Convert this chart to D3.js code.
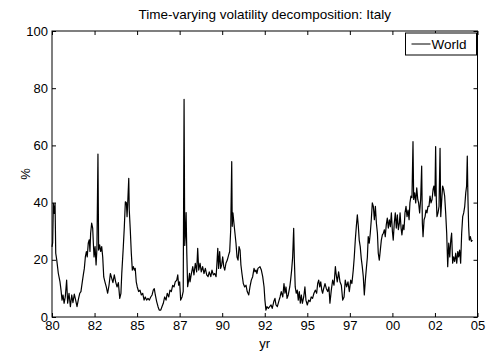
<!DOCTYPE html>
<html>
<head>
<meta charset="utf-8">
<script src="https://d3js.org/d3.v7.min.js"></script>
<style>
  body { margin: 0; background: #fff; }
  svg { font-family: "Liberation Sans", Arial, Helvetica, sans-serif; }
</style>
</head>
<body>
<svg width="487" height="353"></svg>
<script>
// decimal years of each observation
var dates = [
  1980.00, 1980.04, 1980.08, 1980.14, 1980.18, 1980.22, 1980.28, 1980.37, 1980.47, 1980.53, 1980.59, 1980.65, 1980.71, 1980.78, 1980.86, 1980.92,
  1981.00, 1981.08, 1981.16, 1981.23, 1981.31, 1981.39, 1981.47, 1981.55, 1981.63, 1981.70, 1981.78, 1981.84, 1981.90, 1981.96,
  1982.02, 1982.07, 1982.13, 1982.19, 1982.23, 1982.27, 1982.33, 1982.39, 1982.43, 1982.47, 1982.53, 1982.59, 1982.64, 1982.70, 1982.74, 1982.80, 1982.86, 1982.92, 1982.98,
  1983.04, 1983.11, 1983.19, 1983.27, 1983.35, 1983.43, 1983.51, 1983.58, 1983.66, 1983.74, 1983.82, 1983.90, 1983.98,
  1984.05, 1984.10, 1984.19, 1984.25, 1984.31, 1984.37, 1984.41, 1984.45, 1984.51, 1984.54, 1984.60, 1984.66, 1984.72, 1984.78, 1984.84, 1984.89, 1984.95,
  1985.01, 1985.09, 1985.17, 1985.25, 1985.33, 1985.41, 1985.48, 1985.56, 1985.64, 1985.72, 1985.80, 1985.88, 1985.95,
  1986.01, 1986.07, 1986.15, 1986.23, 1986.30, 1986.39, 1986.46, 1986.54, 1986.62, 1986.70, 1986.77, 1986.86, 1986.93,
  1987.01, 1987.09, 1987.17, 1987.24, 1987.33, 1987.39, 1987.44, 1987.50, 1987.56, 1987.64, 1987.71, 1987.76, 1987.80, 1987.85, 1987.88, 1987.92, 1987.97,
  1988.03, 1988.08, 1988.11, 1988.19, 1988.27, 1988.34, 1988.42, 1988.50, 1988.56, 1988.62, 1988.70, 1988.77, 1988.85, 1988.93,
  1989.01, 1989.09, 1989.17, 1989.24, 1989.33, 1989.40, 1989.48, 1989.56, 1989.64, 1989.68, 1989.74, 1989.79, 1989.85, 1989.91, 1989.97,
  1990.03, 1990.09, 1990.15, 1990.22, 1990.30, 1990.38, 1990.44, 1990.50, 1990.56, 1990.59, 1990.63, 1990.69, 1990.75, 1990.81, 1990.87, 1990.93, 1990.99,
  1991.05, 1991.10, 1991.16, 1991.24, 1991.32, 1991.40, 1991.47, 1991.56, 1991.63, 1991.71, 1991.79, 1991.87, 1991.93, 1991.99,
  1992.04, 1992.10, 1992.22, 1992.30, 1992.38, 1992.46, 1992.51, 1992.57, 1992.63, 1992.71, 1992.79, 1992.87, 1992.94,
  1993.03, 1993.10, 1993.16, 1993.24, 1993.32, 1993.40, 1993.47, 1993.56, 1993.63, 1993.69, 1993.75, 1993.81, 1993.88, 1993.97,
  1994.02, 1994.08, 1994.14, 1994.20, 1994.24, 1994.29, 1994.35, 1994.41, 1994.47, 1994.53, 1994.59, 1994.65, 1994.71, 1994.79, 1994.86, 1994.92,
  1995.00, 1995.08, 1995.16, 1995.23, 1995.31, 1995.39, 1995.47, 1995.55, 1995.61, 1995.67, 1995.73, 1995.79, 1995.85, 1995.90, 1995.96,
  1996.04, 1996.12, 1996.20, 1996.27, 1996.33, 1996.41, 1996.49, 1996.57, 1996.65, 1996.70, 1996.76, 1996.84, 1996.92,
  1997.00, 1997.08, 1997.16, 1997.23, 1997.31, 1997.39, 1997.47, 1997.55, 1997.62, 1997.70, 1997.76, 1997.82, 1997.88, 1997.94,
  1998.00, 1998.05, 1998.11, 1998.17, 1998.23, 1998.29, 1998.35, 1998.41, 1998.47, 1998.53, 1998.58, 1998.64, 1998.70, 1998.76, 1998.82, 1998.88, 1998.94,
  1999.00, 1999.06, 1999.12, 1999.17, 1999.23, 1999.29, 1999.35, 1999.41, 1999.47, 1999.53, 1999.58, 1999.64, 1999.70, 1999.76, 1999.82, 1999.88, 1999.94,
  2000.00, 2000.05, 2000.11, 2000.17, 2000.23, 2000.29, 2000.35, 2000.41, 2000.45, 2000.51, 2000.56, 2000.62, 2000.68, 2000.74, 2000.80, 2000.86, 2000.92, 2000.98,
  2001.03, 2001.09, 2001.15, 2001.21, 2001.25, 2001.31, 2001.37, 2001.43, 2001.49, 2001.54, 2001.60, 2001.66, 2001.72, 2001.76, 2001.80, 2001.86, 2001.92, 2001.97,
  2002.03, 2002.09, 2002.15, 2002.21, 2002.27, 2002.33, 2002.39, 2002.44, 2002.50, 2002.54, 2002.58, 2002.62, 2002.68, 2002.74, 2002.80, 2002.84, 2002.90, 2002.95,
  2003.01, 2003.07, 2003.13, 2003.19, 2003.25, 2003.31, 2003.37, 2003.43, 2003.48, 2003.54, 2003.60, 2003.66, 2003.72, 2003.78, 2003.84, 2003.89, 2003.95,
  2004.01, 2004.07, 2004.13, 2004.19, 2004.25, 2004.31, 2004.36, 2004.40, 2004.44, 2004.48, 2004.52, 2004.58, 2004.64, 2004.70
];

// share of volatility explained by the world factor, %
var world = [
  24.5, 26.0, 39.7, 36.2, 39.7, 22.3, 19.9, 15.3, 12.3, 9.4, 5.9, 7.7, 4.8, 7.0, 12.9, 4.8,
  8.3, 3.6, 7.7, 5.0, 8.0, 5.9, 3.6, 6.2, 8.3, 8.9, 12.3, 14.7, 17.0, 21.0,
  22.9, 21.0, 25.8, 27.0, 22.9, 29.3, 32.8, 31.1, 25.8, 21.0, 24.6, 18.2, 24.0, 57.0, 23.4, 25.2, 22.9, 24.6, 21.0,
  14.0, 12.3, 10.5, 8.3, 11.1, 15.2, 13.5, 12.0, 14.7, 12.3, 10.5, 12.0, 6.5,
  8.3, 15.3, 24.6, 31.6, 40.3, 40.0, 35.1, 40.0, 48.5, 37.4, 30.4, 22.3, 16.4, 17.6, 16.4, 17.0, 12.3,
  10.5, 8.9, 9.4, 7.7, 8.3, 5.9, 7.0, 5.9, 6.5, 5.9, 7.0, 7.7, 9.4,
  9.9, 7.7, 5.4, 3.6, 2.4, 2.4, 3.6, 4.8, 7.0, 5.9, 8.3, 7.0, 9.4,
  8.9, 11.1, 10.5, 12.3, 12.9, 14.7, 11.1, 12.3, 5.9, 7.0, 9.0, 76.1, 25.0, 30.0, 36.5, 22.3, 10.6,
  12.9, 15.3, 12.3, 15.2, 17.6, 14.7, 18.8, 15.8, 24.0, 16.4, 18.8, 15.8, 17.6, 15.2,
  17.0, 14.7, 14.1, 15.8, 14.1, 16.4, 14.7, 15.2, 14.1, 17.6, 24.0, 17.0, 22.9, 17.0, 18.2,
  21.0, 17.6, 16.4, 18.8, 19.9, 21.7, 22.9, 30.5, 54.3, 31.7, 36.4, 32.8, 29.3, 25.8, 21.0, 19.9, 24.6,
  23.4, 18.2, 15.2, 11.7, 10.5, 11.1, 8.9, 7.7, 10.5, 12.9, 14.1, 17.0, 15.8, 16.4,
  15.2, 17.0, 17.6, 16.4, 14.1, 10.5, 5.9, 2.4, 3.6, 3.0, 3.6, 4.2, 3.0,
  5.4, 6.5, 4.2, 3.6, 5.4, 7.0, 8.9, 7.0, 11.7, 8.3, 10.5, 6.5, 7.7, 10.5,
  12.9, 16.4, 21.0, 31.0, 19.9, 10.5, 8.3, 9.4, 5.9, 8.9, 4.8, 7.7, 4.8, 7.0, 10.5, 5.9,
  4.2, 5.9, 5.4, 7.0, 6.5, 8.3, 9.4, 8.3, 11.7, 12.9, 10.5, 12.3, 9.4, 8.3, 9.9,
  11.7, 9.9, 8.9, 10.5, 4.8, 9.4, 12.9, 11.1, 17.6, 14.7, 12.3, 15.8, 12.3,
  11.1, 5.9, 7.0, 12.9, 10.5, 12.3, 8.9, 12.9, 11.7, 16.4, 21.0, 26.9, 31.6, 35.7,
  31.6, 26.9, 24.6, 20.5, 17.6, 14.1, 7.7, 12.9, 17.0, 21.0, 28.1, 25.8, 29.3, 34.0, 39.9, 38.7, 34.0,
  38.7, 32.8, 29.3, 22.3, 19.9, 23.4, 26.9, 28.7, 29.3, 30.5, 28.1, 32.2, 34.6, 31.1, 34.0, 31.6, 36.4,
  29.9, 26.9, 32.8, 36.4, 31.1, 35.7, 30.5, 32.8, 36.4, 31.1, 28.7, 32.2, 30.5, 36.4, 38.7, 35.1, 37.4, 34.0,
  39.9, 42.3, 41.7, 61.3, 41.1, 43.4, 39.9, 45.2, 41.1, 39.9, 36.4, 41.1, 52.8, 32.8, 28.1, 34.0, 35.1, 37.4,
  36.4, 38.7, 38.7, 42.3, 39.9, 41.1, 44.6, 45.8, 42.3, 59.6, 41.1, 35.1, 36.4, 38.7, 59.0, 35.1, 41.1, 45.8,
  44.6, 42.3, 36.4, 29.3, 17.6, 25.8, 21.0, 26.9, 29.3, 18.8, 21.0, 19.4, 22.3, 18.8, 22.9, 21.0, 23.4,
  18.8, 29.3, 35.1, 36.4, 38.7, 43.4, 45.8, 56.3, 41.1, 31.7, 26.9, 28.1, 26.4, 26.9
];

var xTicks = [1980, 1982.5, 1985, 1987.5, 1990, 1992.5, 1995, 1997.5, 2000, 2002.5, 2005];
var xTickLabels = ["80", "82", "85", "87", "90", "92", "95", "97", "00", "02", "05"];
var yTicks = [0, 20, 40, 60, 80, 100];

var svg = d3.select("svg"),
    margin = {top: 31, right: 9.5, bottom: 36, left: 52},
    width = +svg.attr("width") - margin.left - margin.right,
    height = +svg.attr("height") - margin.top - margin.bottom;

var x = d3.scaleLinear().domain([1980, 2005]).range([0, width]);
var y = d3.scaleLinear().domain([0, 100]).range([height, 0]);

var g = svg.append("g").attr("transform", "translate(" + margin.left + "," + margin.top + ")");

// data line
var line = d3.line()
    .x(function(d, i) { return x(dates[i]); })
    .y(function(d) { return y(d); });

g.append("path")
    .datum(world)
    .attr("fill", "none")
    .attr("stroke", "#000")
    .attr("stroke-width", 1.2)
    .attr("stroke-linejoin", "round")
    .attr("d", line);

// axes, matlab style: ticks pointing in, on all four sides
var fmtX = function(d) { return xTickLabels[xTicks.indexOf(d)]; };

g.append("g")
    .attr("class", "axis")
    .attr("transform", "translate(0," + height + ")")
    .call(d3.axisBottom(x).tickValues(xTicks).tickFormat(fmtX).tickSizeInner(-4).tickSizeOuter(0).tickPadding(4));
g.append("g")
    .attr("class", "axis")
    .call(d3.axisTop(x).tickValues(xTicks).tickFormat("").tickSizeInner(-4).tickSizeOuter(0));
g.append("g")
    .attr("class", "axis")
    .call(d3.axisLeft(y).tickValues(yTicks).tickSizeInner(-4).tickSizeOuter(0).tickPadding(4));
g.append("g")
    .attr("class", "axis")
    .attr("transform", "translate(" + width + ",0)")
    .call(d3.axisRight(y).tickValues(yTicks).tickFormat("").tickSizeInner(-4).tickSizeOuter(0));

g.selectAll(".axis .domain").remove();
g.selectAll(".axis line").attr("stroke", "#000");
g.selectAll(".axis text")
    .attr("fill", "#000")
    .style("font-family", "\"Liberation Sans\", Arial, sans-serif")
    .style("font-size", "13px");

g.append("rect")
    .attr("width", width)
    .attr("height", height)
    .attr("fill", "none")
    .attr("stroke", "#000")
    .attr("stroke-width", 1);

// title + labels
svg.append("text")
    .attr("x", margin.left + width / 2)
    .attr("y", 19)
    .attr("text-anchor", "middle")
    .style("font-size", "13.5px")
    .text("Time-varying volatility decomposition: Italy");

svg.append("text")
    .attr("x", margin.left + width / 2)
    .attr("y", 348)
    .attr("text-anchor", "middle")
    .style("font-size", "13px")
    .text("yr");

svg.append("text")
    .attr("transform", "translate(30," + (margin.top + height / 2) + ") rotate(-90)")
    .attr("text-anchor", "middle")
    .style("font-size", "13px")
    .text("%");

// legend
var leg = g.append("g").attr("transform", "translate(" + (width - 72) + ",2)");
leg.append("rect")
    .attr("width", 71)
    .attr("height", 22)
    .attr("fill", "#fff")
    .attr("stroke", "#000");
leg.append("line")
    .attr("x1", 6).attr("x2", 25)
    .attr("y1", 11).attr("y2", 11)
    .attr("stroke", "#000");
leg.append("text")
    .attr("x", 26)
    .attr("y", 16)
    .style("font-size", "13.5px")
    .text("World");
</script>
</body>
</html>
